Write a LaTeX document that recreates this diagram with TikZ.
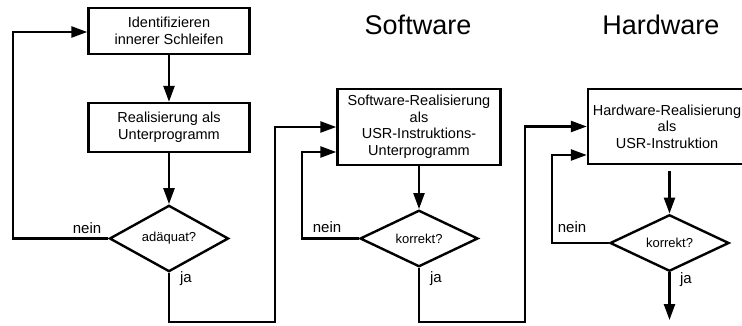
\documentclass[tikz,border=0pt]{standalone}
\usepackage{fontspec}
\setmainfont{Liberation Sans}
\usetikzlibrary{shapes.geometric}
\usetikzlibrary{arrows.meta}

\begin{document}
\begin{tikzpicture}[x=1pt, y=-1pt, line width=2.4pt,
	procbox/.style={draw, rectangle, minimum width=161pt, align=center, inner sep=0pt, font=\fontsize{14.5}{16.5}\selectfont},
	decide/.style={draw, diamond, minimum width=119pt, minimum height=53pt, inner sep=0pt, font=\fontsize{13}{15}\selectfont},
	flow/.style={-{Triangle[length=16pt, width=11pt]}},
	lbl/.style={font=\fontsize{15}{17}\selectfont},
	coltitle/.style={font=\fontsize{27}{30}\selectfont}]
			\useasboundingbox (0, 0) rectangle (742, 326);
			\node[coltitle] (sw) at (418, 25) {Software};
			\node[coltitle] (hw) at (661, 25) {Hardware};
			\node[procbox, minimum height=46pt] (b1) at (169, 31) {Identifizieren\\innerer Schleifen};
			\node[procbox, minimum height=49pt] (b2) at (169, 127.5) {Realisierung als\\Unterprogramm};
			\node[decide] (d1) at (169, 238.5) {adäquat?};
			\node[procbox, minimum width=163pt, minimum height=76pt] (b3) at (419, 127) {Software-Realisierung\\als\\USR-Instruktions-\\Unterprogramm};
			\node[decide, minimum width=118pt] (d2) at (419, 238.5) {korrekt?};
			\node[procbox, minimum width=158pt, minimum height=75pt] (b4) at (667, 126.5) {Hardware-Realisierung\\als\\USR-Instruktion};
			\node[decide, minimum height=52pt] (d3) at (669.5, 243) {korrekt?};
			\node[lbl] (n1) at (87, 228) {nein};
			\node[lbl] (y1) at (186, 279) {ja};
			\node[lbl] (n2) at (327, 227) {nein};
			\node[lbl] (y2) at (436, 279) {ja};
			\node[lbl] (n3) at (572, 227) {nein};
			\node[lbl] (y3) at (686, 280) {ja};
			\coordinate (l1) at (13, 32);
			\coordinate (j1) at (275, 322);
			\coordinate (l2) at (302, 152);
			\coordinate (j2) at (525, 322);
			\coordinate (l3) at (552, 155);
			\coordinate (e3) at (669.5, 320);
			\draw[flow] (b1) -- (b2);
			\draw[flow] (b2) -- (d1);
			\draw[flow] (d1.west) -| (l1) -- (b1.west |- l1);
			\draw[flow] (d1.south) |- (j1) |- (b3.west);
			\draw[flow] (b3) -- (d2);
			\draw[flow] (d2.west) -| (l2) -- (b3.west |- l2);
			\draw[flow] (d2.south) |- (j2) |- (b4.west);
			\draw[flow, shorten <=6pt] (b4.south -| d3) -- (d3);
			\draw[flow] (d3.west) -| (l3) -- (b4.west |- l3);
			\draw[flow] (d3.south) -- (e3);
		\end{tikzpicture}
\end{document}
